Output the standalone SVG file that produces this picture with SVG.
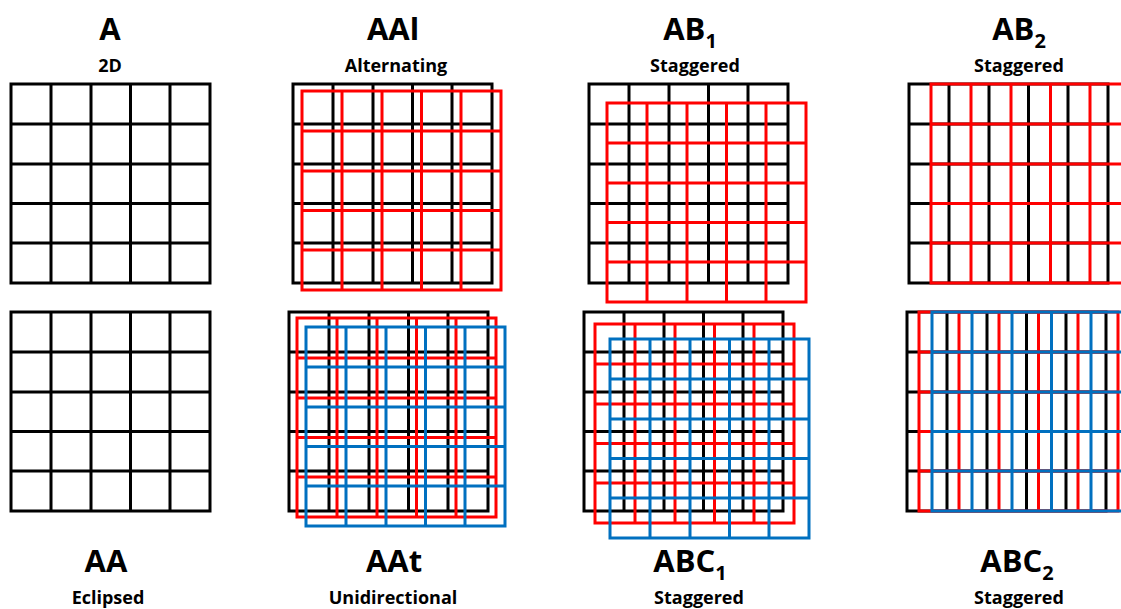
<svg xmlns="http://www.w3.org/2000/svg" xmlns:xlink="http://www.w3.org/1999/xlink" width="1121" height="609" viewBox="0 0 1121 609">
<style>
.g{fill:none;stroke-width:3;stroke-linecap:square}
.k{stroke:#000}
.r{stroke:#ff0000}
.b{stroke:#0070c0}
.t{font-family:"Open Sans","Liberation Sans",sans-serif;font-weight:bold;font-size:31px;fill:#000;text-anchor:middle}
.s{font-family:"Open Sans","Liberation Sans",sans-serif;font-weight:bold;font-size:18px;fill:#000;text-anchor:middle}
.sub{font-size:20px}
</style>
<defs>
<path id="grid" d="M0,0H199V199H0Z M40,0V199 M80,0V199 M119.5,0V199 M159,0V199 M0,40H199 M0,80H199 M0,119.5H199 M0,159H199"/>
</defs>
<rect width="1121" height="609" fill="#fff"/>

<g id="node-A">
<use xlink:href="#grid" class="g k" transform="translate(11,84)"/>
<text class="t" x="110" y="40">A</text>
<text class="s" x="110" y="72">2D</text>
</g>

<g id="node-AAl">
<use xlink:href="#grid" class="g k" transform="translate(293,84)"/>
<use xlink:href="#grid" class="g r" transform="translate(302,91)"/>
<text class="t" x="393" y="40">AAl</text>
<text class="s" x="396" y="72">Alternating</text>
</g>

<g id="node-AB1">
<use xlink:href="#grid" class="g k" transform="translate(589,84)"/>
<use xlink:href="#grid" class="g r" transform="translate(607,103)"/>
<text class="t" x="690" y="40">AB<tspan class="sub" dy="8">1</tspan></text>
<text class="s" x="695" y="72">Staggered</text>
</g>

<g id="node-AB2">
<use xlink:href="#grid" class="g k" transform="translate(909,84)"/>
<use xlink:href="#grid" class="g r" transform="translate(931,84)"/>
<text class="t" x="1019" y="40">AB<tspan class="sub" dy="8">2</tspan></text>
<text class="s" x="1019" y="72">Staggered</text>
</g>

<g id="node-AA">
<use xlink:href="#grid" class="g k" transform="translate(11,312)"/>
<text class="t" x="106" y="572">AA</text>
<text class="s" x="108" y="604">Eclipsed</text>
</g>

<g id="node-AAt">
<use xlink:href="#grid" class="g k" transform="translate(289,312)"/>
<use xlink:href="#grid" class="g r" transform="translate(297,318)"/>
<use xlink:href="#grid" class="g b" transform="translate(306,327)"/>
<text class="t" x="394" y="572">AAt</text>
<text class="s" x="393" y="604">Unidirectional</text>
</g>

<g id="node-ABC1">
<use xlink:href="#grid" class="g k" transform="translate(584,312)"/>
<use xlink:href="#grid" class="g r" transform="translate(595,324)"/>
<use xlink:href="#grid" class="g b" transform="translate(610,339)"/>
<text class="t" x="690" y="572">ABC<tspan class="sub" dy="8">1</tspan></text>
<text class="s" x="699" y="604">Staggered</text>
</g>

<g id="node-ABC2">
<use xlink:href="#grid" class="g k" transform="translate(907,312)"/>
<use xlink:href="#grid" class="g r" transform="translate(919,312)"/>
<use xlink:href="#grid" class="g b" transform="translate(932,312)"/>
<text class="t" x="1017" y="572">ABC<tspan class="sub" dy="8">2</tspan></text>
<text class="s" x="1019" y="604">Staggered</text>
</g>
</svg>
